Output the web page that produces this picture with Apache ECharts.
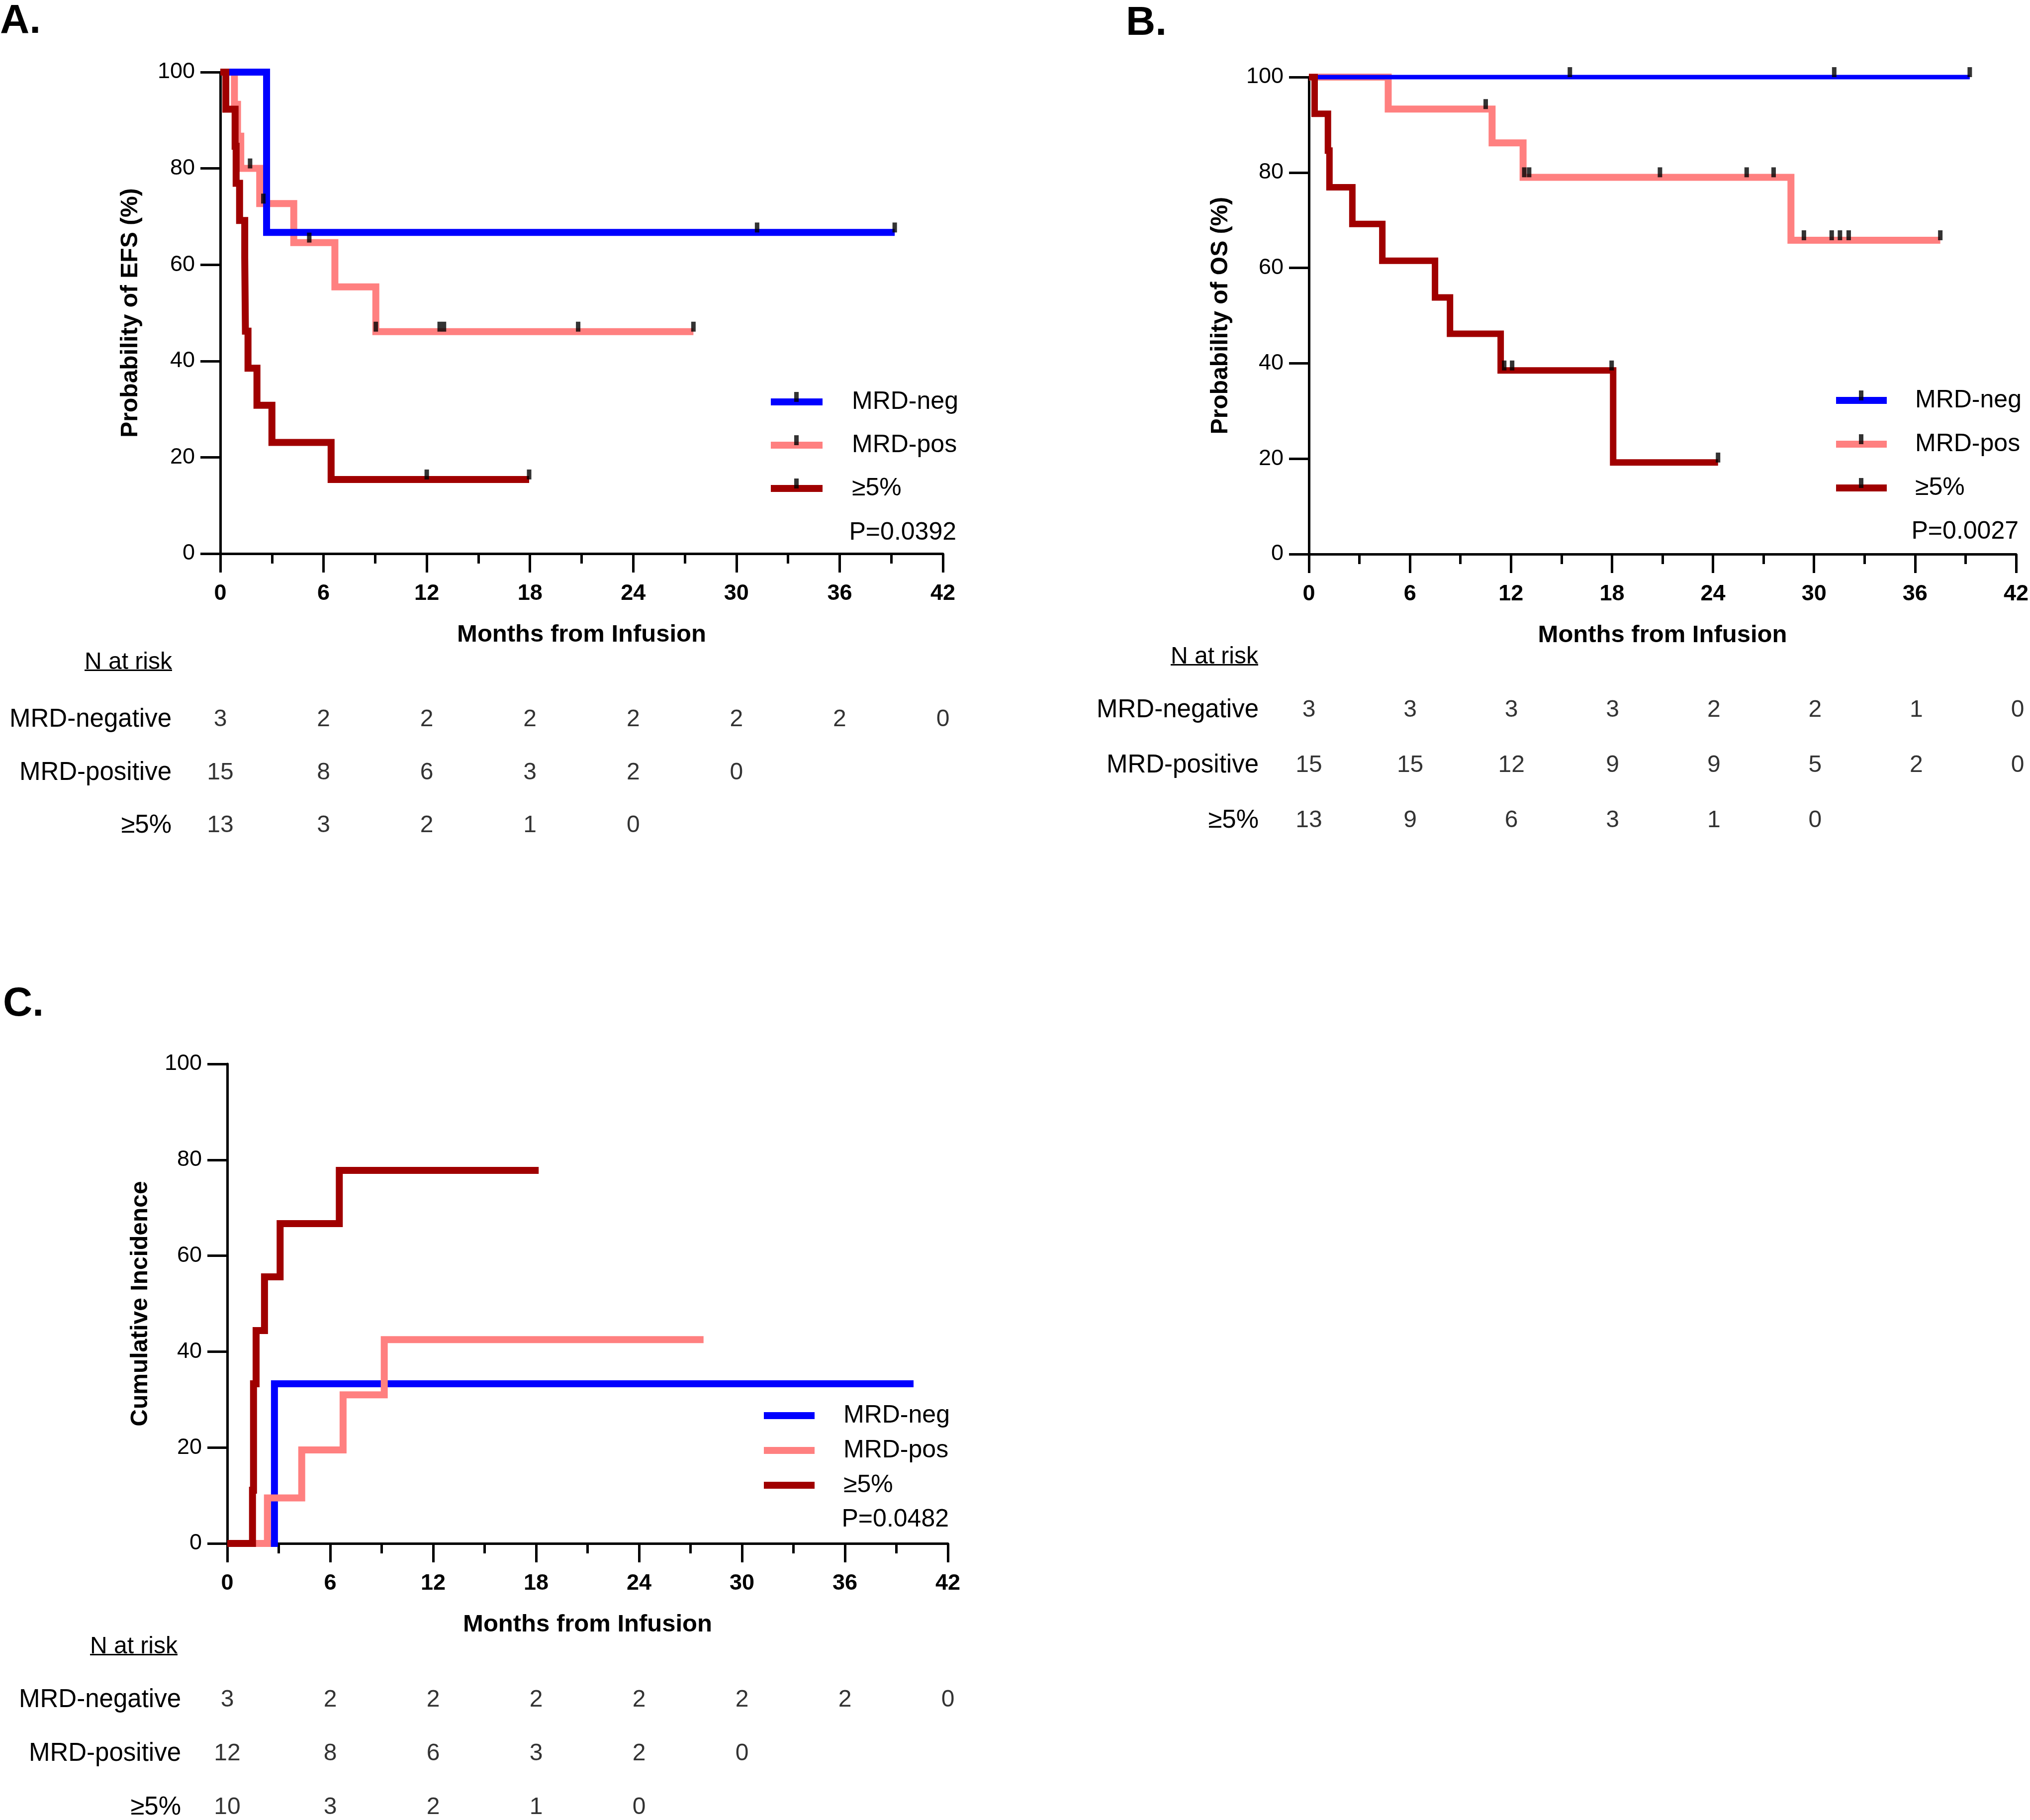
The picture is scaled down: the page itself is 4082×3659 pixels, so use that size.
<!DOCTYPE html>
<html>
<head>
<meta charset="utf-8">
<script src="https://cdn.jsdelivr.net/npm/echarts@6/dist/echarts.min.js"></script>
<style>html,body{margin:0;padding:0;background:#fff}#chart{width:4082px;height:3659px}</style>
</head>
<body>
<div id="chart"></div>
<script>
// ---------------- DATA ----------------
const xTickValues = [0, 6, 12, 18, 24, 30, 36, 42];
const groupNames = ['MRD-neg', 'MRD-pos', '≥5%'];
const censorNames = ['MRD-neg censored', 'MRD-pos censored', '≥5% censored'];
const riskRowNames = ['MRD-negative', 'MRD-positive', '≥5%'];
const riskTimes = [0, 6, 12, 18, 24, 30, 36, 42];

// Panel A: EFS (step curves: [month, %])
const efsNeg = [[0, 100], [2.69, 66.7], [39.2, 66.7]];
const efsPos = [[0, 100], [0.82, 93.3], [1.0, 86.7], [1.19, 80], [2.29, 72.7], [4.27, 64.6], [6.66, 55.4], [9.04, 46.1], [27.5, 46.1]];
const efsHigh = [[0, 100], [0.32, 92.3], [0.86, 84.6], [0.92, 76.9], [1.12, 69.2], [1.42, 61.5], [1.46, 46.2], [1.61, 38.5], [2.13, 30.8], [3.0, 23.1], [6.44, 15.4], [17.95, 15.4]];
const efsNegCens = [[31.2, 66.7], [39.2, 66.7]];
const efsPosCens = [[1.73, 80], [2.5, 72.7], [5.17, 64.6], [9.04, 46.1], [12.75, 46.1], [13.0, 46.1], [20.8, 46.1], [27.5, 46.1]];
const efsHighCens = [[12.0, 15.4], [17.95, 15.4]];

// Panel B: OS
const osNeg = [[0, 100], [39.25, 100]];
const osPos = [[0, 100], [4.71, 93.3], [10.88, 86.2], [12.72, 79.0], [28.63, 65.8], [37.5, 65.8]];
const osHigh = [[0, 100], [0.34, 92.3], [1.13, 84.6], [1.22, 76.9], [2.58, 69.2], [4.36, 61.5], [7.49, 53.8], [8.38, 46.2], [11.39, 38.5], [18.07, 19.2], [24.3, 19.2]];
const osNegCens = [[15.5, 100], [31.2, 100], [39.25, 100]];
const osPosCens = [[10.5, 93.3], [12.79, 79.0], [13.08, 79.0], [20.85, 79.0], [26.0, 79.0], [27.6, 79.0], [29.4, 65.8], [31.05, 65.8], [31.54, 65.8], [32.06, 65.8], [37.5, 65.8]];
const osHighCens = [[11.6, 38.5], [12.07, 38.5], [17.98, 38.5], [24.3, 19.2]];

// Panel C: cumulative incidence
const ciNeg = [[0, 0], [2.75, 33.3], [40.0, 33.3]];
const ciPos = [[0, 0], [2.34, 9.5], [4.34, 19.5], [6.75, 31.0], [9.15, 42.5], [27.76, 42.5]];
const ciHigh = [[0, 0], [1.47, 11.1], [1.53, 33.3], [1.68, 44.4], [2.17, 55.6], [3.08, 66.7], [6.53, 77.8], [18.15, 77.8]];

// Numbers at risk
const riskA_neg = [3, 2, 2, 2, 2, 2, 2, 0];
const riskA_pos = [15, 8, 6, 3, 2, 0];
const riskA_high = [13, 3, 2, 1, 0];
const riskB_neg = [3, 3, 3, 3, 2, 2, 1, 0];
const riskB_pos = [15, 15, 12, 9, 9, 5, 2, 0];
const riskB_high = [13, 9, 6, 3, 1, 0];
const riskC_neg = [3, 2, 2, 2, 2, 2, 2, 0];
const riskC_pos = [12, 8, 6, 3, 2, 0];
const riskC_high = [10, 3, 2, 1, 0];

const pValues = ['P=0.0392', 'P=0.0027', 'P=0.0482'];
const panelLetters = ['A.', 'B.', 'C.'];
const yTitles = ['Probability of EFS (%)', 'Probability of OS (%)', 'Cumulative Incidence'];
const xTitle = 'Months from Infusion';

// ---------------- STYLE ----------------
const FONT = '"Liberation Sans", Arial, Helvetica, sans-serif';
const BLUE = '#0000FF', PINK = '#FF8080', DRED = '#A00000';

const plotGrids = [
  { left: 443, top: 145, width: 1453, height: 968 },
  { left: 2632, top: 155, width: 1425, height: 959 },
  { left: 457, top: 2139, width: 1449, height: 964 }
];
// first row centre at top, last row centre at bottom (boundaryGap false)
const tableGrids = [
  { left: 443, top: 1447, width: 1453, height: 213 },
  { left: 2632, top: 1428, width: 1425, height: 222 },
  { left: 457, top: 3418, width: 1449, height: 224 }
];
const yNameGaps = [156, 153, 150];
const tableLabelMargins = [98, 101, 93];

const grids = plotGrids.concat(tableGrids);
const xAxes = [], yAxes = [];
plotGrids.forEach((g, i) => {
  xAxes.push({
    type: 'value', gridIndex: i, min: 0, max: 42, interval: 6,
    name: xTitle, nameLocation: 'middle', nameGap: 139,
    nameTextStyle: { fontSize: 49, fontWeight: 'bold', fontFamily: FONT, color: '#000' },
    axisLine: { show: true, onZero: false, lineStyle: { color: '#000', width: 5 } },
    axisTick: { show: true, length: 38, lineStyle: { color: '#000', width: 5 } },
    minorTick: { show: true, splitNumber: 2, length: 20, lineStyle: { color: '#000', width: 5 } },
    axisLabel: { fontSize: 45, fontWeight: 'bold', fontFamily: FONT, color: '#000', margin: 58,
      formatter: v => xTickValues.includes(v) ? String(v) : '' },
    splitLine: { show: false }
  });
  yAxes.push({
    type: 'value', gridIndex: i, min: 0, max: 100, interval: 20,
    name: yTitles[i], nameLocation: 'middle', nameGap: yNameGaps[i],
    nameTextStyle: { fontSize: 48, fontWeight: 'bold', fontFamily: FONT, color: '#000' },
    axisLine: { show: true, lineStyle: { color: '#000', width: 5 } },
    axisTick: { show: true, length: 40, lineStyle: { color: '#000', width: 5 } },
    axisLabel: { fontSize: 45, fontFamily: FONT, color: '#000', margin: 51 },
    splitLine: { show: false }
  });
});
tableGrids.forEach((g, i) => {
  xAxes.push({ type: 'value', gridIndex: 3 + i, min: 0, max: 42, show: false });
  yAxes.push({
    type: 'category', gridIndex: 3 + i, data: riskRowNames, inverse: true, boundaryGap: false,
    axisLine: { show: false }, axisTick: { show: false }, splitLine: { show: false },
    axisLabel: { fontSize: 51, fontFamily: FONT, color: '#000', margin: tableLabelMargins[i] }
  });
});

const series = [];
function addLine(name, data, color, width, idx, z) {
  series.push({
    type: 'line', name, data, step: 'end', symbol: 'none', color,
    xAxisIndex: idx, yAxisIndex: idx, clip: false, z, silent: true,
    lineStyle: { color, width, cap: 'butt', join: 'miter' },
    itemStyle: { color }
  });
}
function addCensor(name, data, idx) {
  series.push({
    type: 'scatter', name, data, symbol: 'rect', symbolSize: [9, 20], symbolOffset: [0, -10],
    xAxisIndex: idx, yAxisIndex: idx, itemStyle: { color: '#000' }, z: 10, silent: true, clip: false
  });
}
// Panel A
addLine('MRD-pos', efsPos, PINK, 14, 0, 2);
addLine('MRD-neg', efsNeg, BLUE, 14, 0, 3);
addLine('≥5%', efsHigh, DRED, 14, 0, 4);
addCensor('MRD-neg censored', efsNegCens, 0);
addCensor('MRD-pos censored', efsPosCens, 0);
addCensor('≥5% censored', efsHighCens, 0);
// Panel B
addLine('MRD-pos', osPos, PINK, 14, 1, 2);
addLine('MRD-neg', osNeg, BLUE, 9, 1, 3);
addLine('≥5%', osHigh, DRED, 13, 1, 4);
addCensor('MRD-neg censored', osNegCens, 1);
addCensor('MRD-pos censored', osPosCens, 1);
addCensor('≥5% censored', osHighCens, 1);
// Panel C
addLine('MRD-neg', ciNeg, BLUE, 14, 2, 2);
addLine('MRD-pos', ciPos, PINK, 14, 2, 3);
addLine('≥5%', ciHigh, DRED, 14, 2, 4);

// Risk tables
function addRisk(arrs, idx) {
  arrs.forEach((arr, r) => {
    series.push({
      type: 'scatter', name: 'risk' + idx + '_' + r, xAxisIndex: idx, yAxisIndex: idx,
      data: arr.map((n, k) => [riskTimes[k], riskRowNames[r], n]),
      symbolSize: 1, itemStyle: { color: 'rgba(0,0,0,0)' }, silent: true, clip: false,
      label: { show: true, position: 'inside', formatter: p => String(p.value[2]),
        fontSize: 48, fontFamily: FONT, color: '#000' },
      labelLayout: { hideOverlap: false }
    });
  });
}
addRisk([riskA_neg, riskA_pos, riskA_high], 3);
addRisk([riskB_neg, riskB_pos, riskB_high], 4);
addRisk([riskC_neg, riskC_pos, riskC_high], 5);

// Legends
function legendLines(left, top, gap, iw, pad) {
  return {
    data: groupNames, left, top, orient: 'vertical', icon: 'rect', itemWidth: iw, itemHeight: 14,
    itemGap: gap, selectedMode: false, padding: 0, itemStyle: { borderWidth: 0 },
    textStyle: { fontSize: 50, lineHeight: 50, fontFamily: FONT, color: '#000', padding: [0, 0, 0, pad] }
  };
}
function legendTicks(left, top, gap) {
  return {
    data: censorNames, left, top, orient: 'vertical', icon: 'rect', itemWidth: 9, itemHeight: 20,
    itemGap: gap, selectedMode: false, padding: 0, itemStyle: { borderWidth: 0 },
    textStyle: { fontSize: 50, lineHeight: 50, fontFamily: FONT, color: 'rgba(0,0,0,0)' }
  };
}
const legends = [
  legendLines(1550, 783, 37, 104, 54),
  legendTicks(1597, 773, 37),
  legendLines(3692, 780, 38, 102, 52),
  legendTicks(3738, 770, 38),
  legendLines(1536, 2821, 20, 102, 53)
];

const titleStyle = (fs, fw) => ({ fontSize: fs, fontWeight: fw, fontFamily: FONT, color: '#000', lineHeight: fs });
const titles = [
  { text: panelLetters[0], left: 0, top: 2, padding: 0, textStyle: titleStyle(82, 'bold') },
  { text: panelLetters[1], left: 2264, top: 6, padding: 0, textStyle: titleStyle(82, 'bold') },
  { text: panelLetters[2], left: 6, top: 1978, padding: 0, textStyle: titleStyle(82, 'bold') },
  { text: pValues[0], right: 2159, top: 1046, padding: 0, textStyle: titleStyle(50, 'normal') },
  { text: pValues[1], right: 23, top: 1044, padding: 0, textStyle: titleStyle(50, 'normal') },
  { text: pValues[2], right: 2174, top: 3030, padding: 0, textStyle: titleStyle(50, 'normal') }
];

function nAtRisk(xRight, yMid) {
  return [
    { type: 'text', x: xRight, y: yMid, silent: true,
      style: { text: 'N at risk', fontSize: 48, fontFamily: FONT, fill: '#000', align: 'right', verticalAlign: 'middle' } },
    { type: 'rect', silent: true, shape: { x: xRight - 176, y: yMid + 14, width: 176, height: 3 }, style: { fill: '#000' } }
  ];
}
const graphics = [].concat(nAtRisk(346, 1332), nAtRisk(2530, 1321), nAtRisk(357, 3311));

const chart = echarts.init(document.getElementById('chart'), null, { renderer: 'canvas' });
chart.setOption({
  animation: false,
  backgroundColor: '#fff',
  title: titles,
  legend: legends,
  grid: grids,
  xAxis: xAxes,
  yAxis: yAxes,
  series,
  graphic: graphics
});
</script>
</body>
</html>
